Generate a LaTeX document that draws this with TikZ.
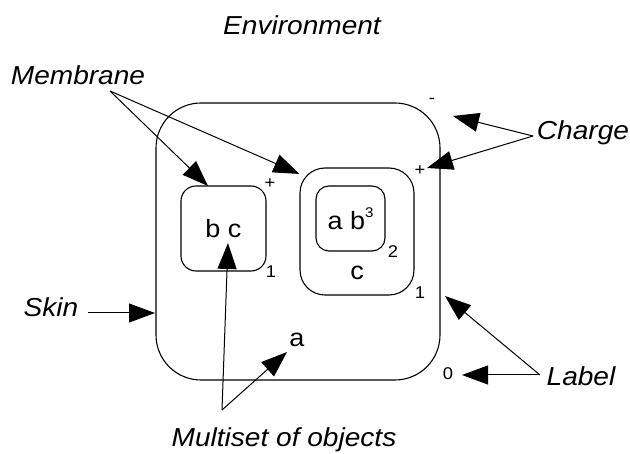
\documentclass[tikz,border=0pt]{standalone}
\usepackage{fontspec}
\setmainfont{Liberation Sans}[FakeStretch=1.08]
\usetikzlibrary{arrows.meta}
\tikzset{
  memb/.style={draw, line width=1.1pt, inner sep=0pt},
  big/.style={font=\fontsize{25}{27}\selectfont, inner sep=0pt},
  lbl/.style={font=\fontsize{26}{29}\selectfont\itshape, inner sep=0pt},
  tiny/.style={font=\fontsize{17}{18}\selectfont, inner sep=0pt},
  ptr/.style={line width=1pt, -{Triangle[length=26pt,width=19pt]}},
}
\begin{document}
\begin{tikzpicture}[x=1pt,y=-1pt]
\useasboundingbox (0,0) rectangle (630,454);
% membranes
\node[memb, rounded corners=45pt, minimum width=284pt, minimum height=277pt] (skin) at (298,241.5) {};
\node[memb, rounded corners=15pt, minimum width=85pt, minimum height=85pt, big] (bc) at (223.5,228.5) {b c};
\node[memb, rounded corners=25pt, minimum width=114pt, minimum height=127pt] (cbox) at (357,231.5) {};
\node[memb, rounded corners=13pt, minimum width=69pt, minimum height=65pt, big] (inner) at (350.5,218.5) {a b\raisebox{0.5em}{\fontsize{14}{15}\selectfont 3}};
\node[big] (ctext) at (357,273) {c};
\node[big] (atext) at (297,340) {a};
% small labels
\node[tiny] (pbc) at (270,184) {+};
\node[tiny] (lbc) at (271,272) {1};
\node[tiny] (two) at (393,252) {2};
\node[tiny] (pc) at (420,171) {+};
\node[tiny] (lc) at (420,293) {1};
\node[tiny] (minus) at (432,101) {-};
\node[tiny] (zero) at (448,374) {0};
% descriptive labels
\node[lbl] (env) at (302,25) {Environment};
\node[lbl] (memtxt) at (78,75) {Membrane};
\node[lbl] (chg) at (583,133) {Charge};
\node[lbl] (skintxt) at (51,307) {Skin};
\node[lbl] (labtxt) at (581,376) {Label};
\node[lbl] (mult) at (284,440) {Multiset of objects};
% vertices and targets
\coordinate (vm) at (110,91);
\coordinate (vc) at (533,136);
\coordinate (vl) at (540,375);
\coordinate (vo) at (222,410);
\coordinate (vs) at (88,313);
\coordinate (tm1) at (208,186);
\coordinate (tc1) at (453,116);
\coordinate (tc2) at (427,168);
\coordinate (tl1) at (445,296);
\coordinate (tl2) at (462,375);
\coordinate (to1) at (228,243);
\coordinate (to2) at (287,352);
\coordinate (ts) at (155,313);
% connectors
\draw[ptr] (vm) -- (tm1);
\draw[ptr] (vm) -- (cbox.135);
\draw[ptr] (vc) -- (tc1);
\draw[ptr] (vc) -- (tc2);
\draw[ptr] (vl) -- (tl1);
\draw[ptr] (vl) -- (tl2);
\draw[ptr] (vo) -- (to1);
\draw[ptr] (vo) -- (to2);
\draw[ptr] (vs) -- (ts);
\end{tikzpicture}
\end{document}
